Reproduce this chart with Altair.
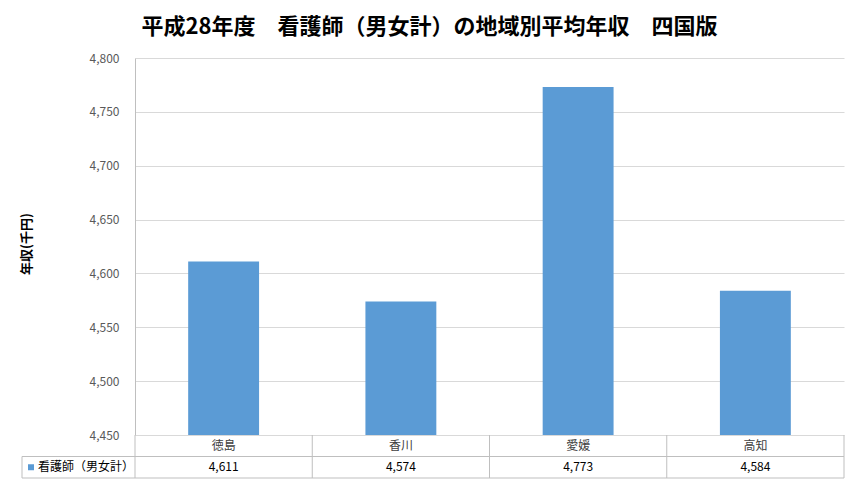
import altair as alt
import pandas as pd

# ---- data ----
regions = ["徳島", "香川", "愛媛", "高知"]
salaries = [4611, 4574, 4773, 4584]
y_ticks = [4450, 4500, 4550, 4600, 4650, 4700, 4750, 4800]
title_text = "平成28年度\u3000看護師（男女計）の地域別平均年収\u3000四国版"
axis_title = "年収(千円)"
series_name = "看護師（男女計）"

# ---- layout ----
W, H = 709, 377
ROW1 = H + 21.5
ROW2 = H + 43
LEFT_CELL = -113
FONT = "Noto Sans CJK JP"
BAR_COLOR = "#5B9BD5"
TABLE_COLOR = "#bfbfbf"

df = pd.DataFrame({"region": regions, "salary": salaries})
df["label"] = [f"{v:,}" for v in salaries]
df["base"] = y_ticks[0]

xscale = alt.Scale(domain=regions, paddingInner=0, paddingOuter=0)


def xenc(**kw):
    return alt.X("region:N", sort=regions, scale=xscale, axis=None, **kw)


base = alt.Chart(df)
one = alt.Chart(pd.DataFrame({"t": [title_text], "s": [series_name]}))

bars = base.mark_bar(color=BAR_COLOR, width=alt.RelativeBandSize(0.4)).encode(
    x=xenc(),
    y=alt.Y(
        "salary:Q",
        scale=alt.Scale(domain=[y_ticks[0], y_ticks[-1]], zero=False, nice=False),
        axis=alt.Axis(
            values=y_ticks,
            format=",.0f",
            title=axis_title,
            grid=True,
            gridColor="#d9d9d9",
            domainColor=TABLE_COLOR,
            ticks=False,
            labelPadding=16,
            labelFont=FONT,
            labelFontSize=12,
            labelColor="#595959",
            titleFont=FONT,
            titleFontSize=13,
            titleFontWeight="bold",
            titleColor="#000000",
            titleX=-102,
            titleY=H / 2 - 3,
        ),
    ),
    y2="base:Q",
)

vlines = base.mark_rule(color=TABLE_COLOR).encode(
    x=xenc(bandPosition=0), y=alt.value(H), y2=alt.value(ROW2)
)
right_line = one.mark_rule(color=TABLE_COLOR).encode(
    x=alt.value(W), y=alt.value(H), y2=alt.value(ROW2)
)
h1 = one.mark_rule(color=TABLE_COLOR).encode(
    x=alt.value(LEFT_CELL), x2=alt.value(W), y=alt.value(ROW1)
)
h2 = one.mark_rule(color=TABLE_COLOR).encode(
    x=alt.value(LEFT_CELL), x2=alt.value(W), y=alt.value(ROW2)
)
lv = one.mark_rule(color=TABLE_COLOR).encode(
    x=alt.value(LEFT_CELL), y=alt.value(ROW1), y2=alt.value(ROW2)
)

cat_text = base.mark_text(font=FONT, fontSize=12, color="#404040", baseline="middle").encode(
    x=xenc(), y=alt.value((H + ROW1) / 2), text="region:N"
)
val_text = base.mark_text(font=FONT, fontSize=12, color="#000000", baseline="middle").encode(
    x=xenc(), y=alt.value((ROW1 + ROW2) / 2), text="label:N"
)

legend_sq = one.mark_rect(color=BAR_COLOR).encode(
    x=alt.value(LEFT_CELL + 6), x2=alt.value(LEFT_CELL + 12),
    y=alt.value((ROW1 + ROW2) / 2 - 3), y2=alt.value((ROW1 + ROW2) / 2 + 3),
)
legend_txt = one.mark_text(font=FONT, fontSize=12, color="#000000", align="left", baseline="middle").encode(
    x=alt.value(LEFT_CELL + 16), y=alt.value((ROW1 + ROW2) / 2), text="s:N"
)

title = one.mark_text(font=FONT, fontSize=22, fontWeight="bold", color="#000000", align="center", baseline="middle").encode(
    x=alt.value(294.5), y=alt.value(-31), text="t:N"
)

chart = (
    alt.layer(bars, vlines, right_line, h1, h2, lv, cat_text, val_text, legend_sq, legend_txt, title)
    .properties(
        width=W,
        height=H,
        autosize=alt.AutoSizeParams(type="none"),
        padding={"left": 127, "top": 50, "right": 5, "bottom": 44},
        background="white",
    )
    .configure_view(stroke=None)
)

chart.save("out.html", embed_options={"renderer": "svg", "actions": False})
